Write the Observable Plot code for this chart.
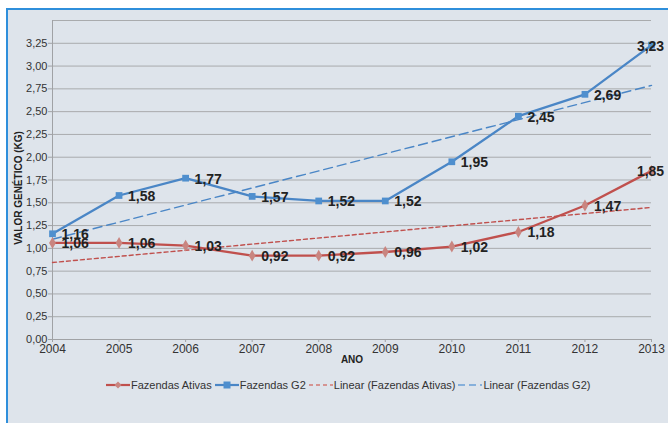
<!DOCTYPE html>
<html>
<head>
<meta charset="utf-8">
<script src="https://cdn.jsdelivr.net/npm/d3@7"></script>
<script src="https://cdn.jsdelivr.net/npm/@observablehq/plot@0.6"></script>
<style>
  html, body { margin: 0; padding: 0; background: #ffffff; overflow: hidden; width: 668px; height: 423px; }
  #panel { position: absolute; left: 6px; top: 8px; width: 660px; height: 413px;
           border-left: 2px solid #2f8fdb; border-top: 2px solid #2f8fdb; background: #dee4eb;
           font-family: "Liberation Sans", Arial, sans-serif; }
  #legend { display: flex; align-items: center; height: 20px; padding-left: 98px; font-size: 11px; color: #333; white-space: nowrap; }
  #legend .item { display: flex; align-items: center; margin-right: 3px; }
  #legend svg { margin-right: 1px; }
</style>
</head>
<body>
<div id="panel"><div id="chart"></div><div id="legend"></div></div>
<script>
const years = [2004, 2005, 2006, 2007, 2008, 2009, 2010, 2011, 2012, 2013];
const ativas = [1.06, 1.06, 1.03, 0.92, 0.92, 0.96, 1.02, 1.18, 1.47, 1.85];
const g2 = [1.16, 1.58, 1.77, 1.57, 1.52, 1.52, 1.95, 2.45, 2.69, 3.23];
const yTicks = [0, 0.25, 0.5, 0.75, 1, 1.25, 1.5, 1.75, 2, 2.25, 2.5, 2.75, 3, 3.25];
const gridTicks = [0, 0.25, 0.5, 0.75, 1, 1.25, 1.5, 1.75, 2, 2.25, 2.5, 2.75, 3, 3.25, 3.5];
const seriesNames = ["Fazendas Ativas", "Fazendas G2"];

const red = "#c0504d", redMark = "#c98580";
const blue = "#4a86c6", blueMark = "#4f8fce";

const rowsA = years.map((year, i) => ({year, value: ativas[i], series: seriesNames[0]}));
const rowsB = years.map((year, i) => ({year, value: g2[i], series: seriesNames[1]}));
const fmt = v => v.toFixed(2).replace(".", ",");
const last = years[years.length - 1];

const labelStyle = {fontSize: 14, fontWeight: "bold", fill: "#222", fontFamily: "Liberation Sans, Arial, sans-serif"};

const chart = Plot.plot({
  width: 660,
  height: 365,
  marginLeft: 44,
  marginRight: 17,
  marginTop: 10,
  marginBottom: 36,
  style: {background: "transparent", fontFamily: "Liberation Sans, Arial, sans-serif", overflow: "visible"},
  x: {domain: [2004, 2013], axis: null},
  y: {domain: [0, 3.5], axis: null},
  marks: [
    Plot.ruleY(gridTicks, {stroke: "#a9abad", strokeWidth: 1}),
    Plot.ruleX([2004], {y1: 0, y2: 3.5, stroke: "#a0a2a5"}),
    Plot.axisY(yTicks, {tickSize: 4, tickPadding: 1, tickFormat: fmt, fontSize: 11, color: "#333", stroke: "#a0a2a5", label: null}),
    Plot.axisX(years, {tickSize: 3, tickPadding: 2, tickFormat: d3.format("d"), fontSize: 12, color: "#333", stroke: "#a0a2a5", label: null}),
    Plot.ruleY([0], {stroke: "#a0a2a5"}),
    Plot.linearRegressionY(rowsA, {x: "year", y: "value", stroke: red, strokeWidth: 1.4, strokeDasharray: "4,3", ci: 0}),
    Plot.linearRegressionY(rowsB, {x: "year", y: "value", stroke: blue, strokeWidth: 1.4, strokeDasharray: "9,5", ci: 0}),
    Plot.line(rowsA, {x: "year", y: "value", stroke: red, strokeWidth: 2.3}),
    Plot.line(rowsB, {x: "year", y: "value", stroke: blue, strokeWidth: 2.3}),
    Plot.dot(rowsA, {x: "year", y: "value", symbol: "diamond", r: 3.6, fill: redMark, stroke: "none"}),
    Plot.dot(rowsB, {x: "year", y: "value", symbol: "square", r: 3.8, fill: blueMark, stroke: "none"}),
    Plot.text(rowsA.filter(d => d.year !== last), {x: "year", y: "value", text: d => fmt(d.value), textAnchor: "start", dx: 9, dy: 1, ...labelStyle}),
    Plot.text(rowsB.filter(d => d.year !== last), {x: "year", y: "value", text: d => fmt(d.value), textAnchor: "start", dx: 9, dy: 1, ...labelStyle}),
    Plot.text(rowsA.filter(d => d.year === last), {x: "year", y: "value", text: d => fmt(d.value), textAnchor: "middle", dx: -1, dy: 1, ...labelStyle}),
    Plot.text(rowsB.filter(d => d.year === last), {x: "year", y: "value", text: d => fmt(d.value), textAnchor: "middle", dx: -1, dy: 1, ...labelStyle}),
    Plot.text(["VALOR GENÉTICO (KG)"], {frameAnchor: "left", textAnchor: "middle", dx: -34, dy: 8, rotate: -90, fontSize: 10, fontWeight: "bold", fill: "#222"}),
    Plot.text(["ANO"], {frameAnchor: "bottom", dy: 23, fontSize: 10, fontWeight: "bold", fill: "#222"})
  ]
});
document.getElementById("chart").appendChild(chart);

// Legend
const legendItems = [
  {label: "Fazendas Ativas", color: red, dash: null, marker: "diamond", markColor: redMark},
  {label: "Fazendas G2", color: blue, dash: null, marker: "square", markColor: blueMark},
  {label: "Linear (Fazendas Ativas)", color: "#d27a76", dash: "4,3", marker: null},
  {label: "Linear (Fazendas G2)", color: "#6a9fd6", dash: "7,4", marker: null}
];
const legend = d3.select("#legend");
for (const it of legendItems) {
  const item = legend.append("div").attr("class", "item");
  const sw = item.append("svg").attr("width", 24).attr("height", 10);
  sw.append("line").attr("x1", 0).attr("x2", 24).attr("y1", 5).attr("y2", 5)
    .attr("stroke", it.color).attr("stroke-width", it.dash ? 1.4 : 2.2)
    .attr("stroke-dasharray", it.dash);
  if (it.marker === "diamond") {
    sw.append("path").attr("d", "M12,1.5L15.5,5L12,8.5L8.5,5Z").attr("fill", it.markColor);
  } else if (it.marker === "square") {
    sw.append("rect").attr("x", 8.5).attr("y", 1.5).attr("width", 7).attr("height", 7).attr("fill", it.markColor);
  }
  item.append("span").text(it.label);
}
</script>
</body>
</html>
